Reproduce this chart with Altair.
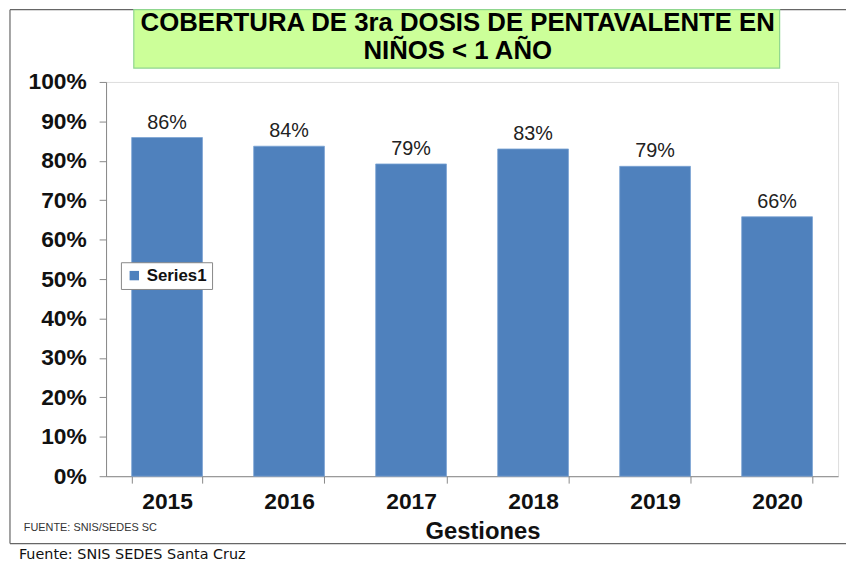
import altair as alt
import pandas as pd

years = ["2015", "2016", "2017", "2018", "2019", "2020"]
coverage = [0.859, 0.837, 0.792, 0.830, 0.786, 0.658]
series = ["Series1"] * 6
y_ticks = [0, 0.1, 0.2, 0.3, 0.4, 0.5, 0.6, 0.7, 0.8, 0.9, 1.0]

title_lines = ["COBERTURA DE 3ra DOSIS DE PENTAVALENTE EN", "NIÑOS < 1 AÑO"]
x_title = "Gestiones"
note_small = "FUENTE: SNIS/SEDES SC"
note_bottom = "Fuente: SNIS SEDES Santa Cruz"

df = pd.DataFrame({"year": years, "value": coverage, "series": series})
one = pd.DataFrame({"a": [0]})

W, H = 739, 398
FONT = "Liberation Sans"

x_enc = alt.X(
    "year:N",
    sort=years,
    scale=alt.Scale(paddingInner=0.42, paddingOuter=0.21),
    axis=alt.Axis(
        title=x_title,
        titleFont=FONT, titleFontSize=24, titleFontWeight="bold", titleColor="#111",
        titlePadding=6, titleX=380,
        labelFont=FONT, labelFontSize=23, labelFontWeight="bold", labelColor="#111",
        labelAngle=0, labelPadding=8,
        tickBand="extent", tickSize=7, tickColor="#888", domainColor="#888",
    ),
)
y_enc = alt.Y(
    "value:Q",
    scale=alt.Scale(domain=[0, 1], nice=False),
    axis=alt.Axis(
        title=None, values=y_ticks, format=".0%", grid=False, labelOverlap=False,
        labelFont=FONT, labelFontSize=23, labelFontWeight="bold", labelColor="#111",
        labelPadding=13, tickSize=7, tickColor="#888", domainColor="#888",
    ),
)

bars = alt.Chart(df).mark_bar(stroke="#7aa3d4", strokeWidth=0.8).encode(
    x=x_enc,
    y=y_enc,
    color=alt.Color(
        "series:N",
        scale=alt.Scale(range=["#4f81bd"]),
        legend=alt.Legend(
            title=None, orient="none", legendX=15, legendY=182,
            fillColor="white", strokeColor="#888", padding=5,
            symbolType="square", symbolSize=90, symbolStrokeWidth=0,
            labelFont=FONT, labelFontSize=17, labelFontWeight="bold", labelColor="#111",
        ),
    ),
)

labels = alt.Chart(df).mark_text(
    font=FONT, fontSize=20, color="#222", baseline="bottom", dy=-5
).encode(
    x=x_enc,
    y=y_enc,
    text=alt.Text("value:Q", format=".0%"),
)

# outer frame lines
frame_top = alt.Chart(one).mark_rule(color="#666", strokeWidth=1.2).encode(
    x=alt.value(-97), x2=alt.value(760), y=alt.value(-73))
frame_left = alt.Chart(one).mark_rule(color="#666", strokeWidth=1.2).encode(
    x=alt.value(-97), y=alt.value(-73), y2=alt.value(466))
frame_bottom = alt.Chart(one).mark_rule(color="#666", strokeWidth=1.2).encode(
    x=alt.value(-97), x2=alt.value(760), y=alt.value(466))

title_box = alt.Chart(one).mark_rect(
    fill="#ccff99", stroke="#8fd68f", strokeWidth=1.2
).encode(x=alt.value(28), x2=alt.value(680), y=alt.value(-73), y2=alt.value(-14))

title1 = alt.Chart(one).mark_text(
    text=title_lines[0], font=FONT, fontSize=26, fontWeight="bold", color="#000"
).encode(x=alt.value(355), y=alt.value(-59))
title2 = alt.Chart(one).mark_text(
    text=title_lines[1], font=FONT, fontSize=26, fontWeight="bold", color="#000"
).encode(x=alt.value(355), y=alt.value(-31))

note1 = alt.Chart(one).mark_text(
    text=note_small, font=FONT, fontSize=11, color="#333", align="left"
).encode(x=alt.value(-83), y=alt.value(450))
note2 = alt.Chart(one).mark_text(
    text=note_bottom, font="DejaVu Sans", fontSize=14.5, color="#111", align="left"
).encode(x=alt.value(-88), y=alt.value(478))

chart = alt.layer(
    frame_top, frame_left, frame_bottom, title_box, title1, title2,
    bars, labels, note1, note2
).properties(
    width=W, height=H,
    autosize=alt.AutoSizeParams(type="none"),
    padding={"left": 99, "top": 72, "right": 8, "bottom": 88},
).configure_view(stroke="#999", strokeWidth=1).configure(background="white")

chart.save("out.html", embed_options={"renderer": "svg", "actions": False})
